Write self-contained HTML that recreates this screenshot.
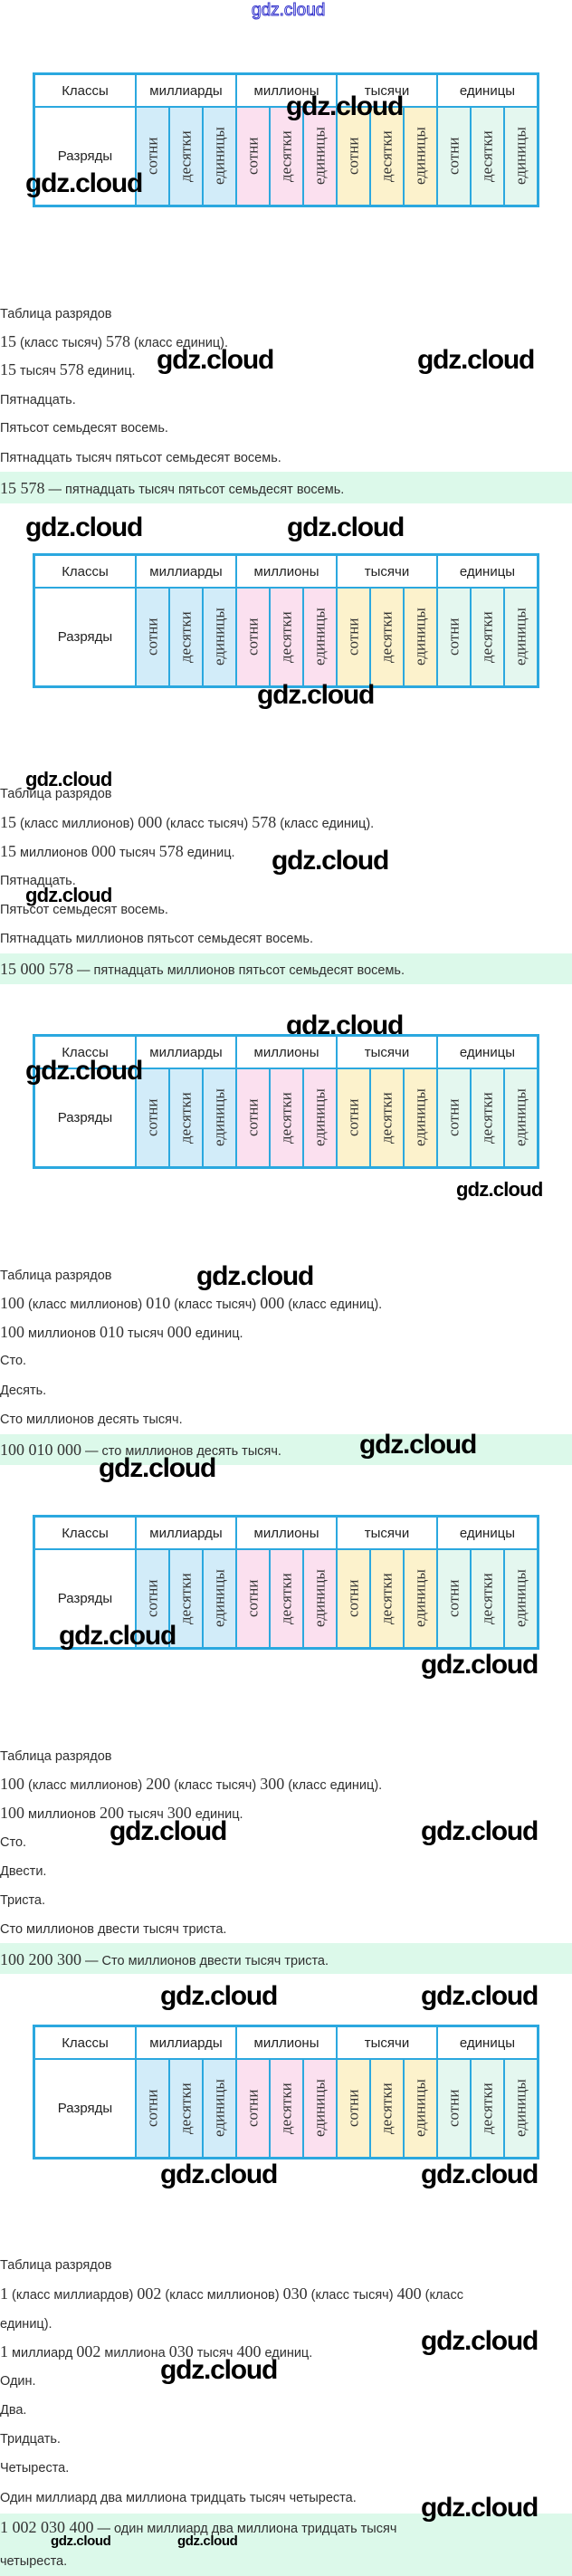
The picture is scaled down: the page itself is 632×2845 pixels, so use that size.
<!DOCTYPE html>
<html><head><meta charset="utf-8">
<style>
*{margin:0;padding:0;box-sizing:border-box}
body{width:632px;height:2845px;position:relative;background:#fff;overflow:hidden;font-family:"Liberation Sans",sans-serif}
.tb{position:absolute;left:36px;width:560px;height:149px;background:#2ba8df;padding:3px;display:grid;grid-template-columns:110px repeat(12,1fr);grid-template-rows:34px 1fr;gap:2px 2px}
.tb div{background:#fff;display:flex;align-items:center;justify-content:center;font-size:15px;color:#222}
.tb .h{grid-column:span 3}
.tb .v{writing-mode:vertical-rl;transform:rotate(180deg);font-family:"Liberation Serif",serif;font-size:17px;color:#333}
.tb .b{background:#d2ecf9}.tb .p{background:#fbe0ef}.tb .y{background:#fcf2cc}.tb .g{background:#e4f7ef}
.l{position:absolute;left:0;font-size:14.5px;color:#2f2f2f;line-height:20px;white-space:nowrap}
.l b{font-family:"Liberation Serif",serif;font-weight:normal;font-size:18px;color:#333}
.gr{position:absolute;left:0;width:632px;background:#dcf9ea}
.w{position:absolute;font-family:"Liberation Sans",sans-serif;font-weight:bold;font-size:30px;color:#000;line-height:30px;white-space:nowrap;letter-spacing:-1.2px}
.ws{font-size:22px;line-height:22px;letter-spacing:-0.8px}
.wt{font-size:15px;line-height:15px;letter-spacing:-0.4px}
</style></head><body>

<div class="w" style="left:278px;top:2px;font-size:19px;line-height:20px;font-weight:normal;letter-spacing:0;color:transparent;-webkit-text-stroke:1px #3333cc">gdz.cloud</div>

<!-- Table 1 -->
<div class="tb" style="top:80px">
<div>Классы</div><div class="h">миллиарды</div><div class="h">миллионы</div><div class="h">тысячи</div><div class="h">единицы</div>
<div>Разряды</div>
<div class="v b">сотни</div><div class="v b">десятки</div><div class="v b">единицы</div>
<div class="v p">сотни</div><div class="v p">десятки</div><div class="v p">единицы</div>
<div class="v y">сотни</div><div class="v y">десятки</div><div class="v y">единицы</div>
<div class="v g">сотни</div><div class="v g">десятки</div><div class="v g">единицы</div>
</div>
<div class="w" style="left:316px;top:103px">gdz.cloud</div>
<div class="w" style="left:28px;top:188px">gdz.cloud</div>

<div class="l" style="top:337px">Таблица разрядов</div>
<div class="l" style="top:367px"><b>15</b> (класс тысяч) <b>578</b> (класс единиц).</div>
<div class="l" style="top:398px"><b>15</b> тысяч <b>578</b> единиц.</div>
<div class="l" style="top:432px">Пятнадцать.</div>
<div class="l" style="top:463px">Пятьсот семьдесят восемь.</div>
<div class="l" style="top:496px">Пятнадцать тысяч пятьсот семьдесят восемь.</div>
<div class="gr" style="top:521px;height:35px"></div>
<div class="l" style="top:529px"><b>15 578</b> — пятнадцать тысяч пятьсот семьдесят восемь.</div>
<div class="w" style="left:173px;top:383px">gdz.cloud</div>
<div class="w" style="left:461px;top:383px">gdz.cloud</div>
<div class="w" style="left:28px;top:568px">gdz.cloud</div>
<div class="w" style="left:317px;top:568px">gdz.cloud</div>

<!-- Table 2 -->
<div class="tb" style="top:611px">
<div>Классы</div><div class="h">миллиарды</div><div class="h">миллионы</div><div class="h">тысячи</div><div class="h">единицы</div>
<div>Разряды</div>
<div class="v b">сотни</div><div class="v b">десятки</div><div class="v b">единицы</div>
<div class="v p">сотни</div><div class="v p">десятки</div><div class="v p">единицы</div>
<div class="v y">сотни</div><div class="v y">десятки</div><div class="v y">единицы</div>
<div class="v g">сотни</div><div class="v g">десятки</div><div class="v g">единицы</div>
</div>
<div class="w" style="left:284px;top:753px">gdz.cloud</div>

<div class="w ws" style="left:28px;top:850px">gdz.cloud</div>
<div class="l" style="top:867px">Таблица разрядов</div>
<div class="l" style="top:898px"><b>15</b> (класс миллионов) <b>000</b> (класс тысяч) <b>578</b> (класс единиц).</div>
<div class="l" style="top:930px"><b>15</b> миллионов <b>000</b> тысяч <b>578</b> единиц.</div>
<div class="l" style="top:963px">Пятнадцать.</div>
<div class="w ws" style="left:28px;top:978px">gdz.cloud</div>
<div class="l" style="top:995px">Пятьсот семьдесят восемь.</div>
<div class="l" style="top:1027px">Пятнадцать миллионов пятьсот семьдесят восемь.</div>
<div class="gr" style="top:1053px;height:34px"></div>
<div class="l" style="top:1060px"><b>15 000 578</b> — пятнадцать миллионов пятьсот семьдесят восемь.</div>
<div class="w" style="left:300px;top:936px">gdz.cloud</div>
<div class="w" style="left:316px;top:1118px">gdz.cloud</div>

<!-- Table 3 -->
<div class="tb" style="top:1142px">
<div>Классы</div><div class="h">миллиарды</div><div class="h">миллионы</div><div class="h">тысячи</div><div class="h">единицы</div>
<div>Разряды</div>
<div class="v b">сотни</div><div class="v b">десятки</div><div class="v b">единицы</div>
<div class="v p">сотни</div><div class="v p">десятки</div><div class="v p">единицы</div>
<div class="v y">сотни</div><div class="v y">десятки</div><div class="v y">единицы</div>
<div class="v g">сотни</div><div class="v g">десятки</div><div class="v g">единицы</div>
</div>
<div class="w" style="left:28px;top:1168px">gdz.cloud</div>
<div class="w ws" style="left:504px;top:1303px">gdz.cloud</div>

<div class="l" style="top:1399px">Таблица разрядов</div>
<div class="l" style="top:1429px"><b>100</b> (класс миллионов) <b>010</b> (класс тысяч) <b>000</b> (класс единиц).</div>
<div class="l" style="top:1461px"><b>100</b> миллионов <b>010</b> тысяч <b>000</b> единиц.</div>
<div class="l" style="top:1493px">Сто.</div>
<div class="l" style="top:1526px">Десять.</div>
<div class="l" style="top:1558px">Сто миллионов десять тысяч.</div>
<div class="gr" style="top:1584px;height:34px"></div>
<div class="l" style="top:1591px"><b>100 010 000</b> — сто миллионов десять тысяч.</div>
<div class="w" style="left:217px;top:1395px">gdz.cloud</div>
<div class="w" style="left:397px;top:1581px">gdz.cloud</div>
<div class="w" style="left:109px;top:1607px">gdz.cloud</div>

<!-- Table 4 -->
<div class="tb" style="top:1673px">
<div>Классы</div><div class="h">миллиарды</div><div class="h">миллионы</div><div class="h">тысячи</div><div class="h">единицы</div>
<div>Разряды</div>
<div class="v b">сотни</div><div class="v b">десятки</div><div class="v b">единицы</div>
<div class="v p">сотни</div><div class="v p">десятки</div><div class="v p">единицы</div>
<div class="v y">сотни</div><div class="v y">десятки</div><div class="v y">единицы</div>
<div class="v g">сотни</div><div class="v g">десятки</div><div class="v g">единицы</div>
</div>
<div class="w" style="left:65px;top:1792px">gdz.cloud</div>
<div class="w" style="left:465px;top:1824px">gdz.cloud</div>

<div class="l" style="top:1930px">Таблица разрядов</div>
<div class="l" style="top:1960px"><b>100</b> (класс миллионов) <b>200</b> (класс тысяч) <b>300</b> (класс единиц).</div>
<div class="l" style="top:1992px"><b>100</b> миллионов <b>200</b> тысяч <b>300</b> единиц.</div>
<div class="l" style="top:2025px">Сто.</div>
<div class="l" style="top:2057px">Двести.</div>
<div class="l" style="top:2089px">Триста.</div>
<div class="l" style="top:2121px">Сто миллионов двести тысяч триста.</div>
<div class="gr" style="top:2146px;height:34px"></div>
<div class="l" style="top:2154px"><b>100 200 300</b> — Сто миллионов двести тысяч триста.</div>
<div class="w" style="left:121px;top:2008px">gdz.cloud</div>
<div class="w" style="left:465px;top:2008px">gdz.cloud</div>
<div class="w" style="left:177px;top:2190px">gdz.cloud</div>
<div class="w" style="left:465px;top:2190px">gdz.cloud</div>

<!-- Table 5 -->
<div class="tb" style="top:2236px">
<div>Классы</div><div class="h">миллиарды</div><div class="h">миллионы</div><div class="h">тысячи</div><div class="h">единицы</div>
<div>Разряды</div>
<div class="v b">сотни</div><div class="v b">десятки</div><div class="v b">единицы</div>
<div class="v p">сотни</div><div class="v p">десятки</div><div class="v p">единицы</div>
<div class="v y">сотни</div><div class="v y">десятки</div><div class="v y">единицы</div>
<div class="v g">сотни</div><div class="v g">десятки</div><div class="v g">единицы</div>
</div>
<div class="w" style="left:177px;top:2387px">gdz.cloud</div>
<div class="w" style="left:465px;top:2387px">gdz.cloud</div>

<div class="l" style="top:2492px">Таблица разрядов</div>
<div class="l" style="top:2523px"><b>1</b> (класс миллиардов) <b>002</b> (класс миллионов) <b>030</b> (класс тысяч) <b>400</b> (класс</div>
<div class="l" style="top:2557px">единиц).</div>
<div class="l" style="top:2587px"><b>1</b> миллиард <b>002</b> миллиона <b>030</b> тысяч <b>400</b> единиц.</div>
<div class="l" style="top:2620px">Один.</div>
<div class="l" style="top:2652px">Два.</div>
<div class="l" style="top:2684px">Тридцать.</div>
<div class="l" style="top:2716px">Четыреста.</div>
<div class="l" style="top:2749px">Один миллиард два миллиона тридцать тысяч четыреста.</div>
<div class="gr" style="top:2776px;height:69px"></div>
<div class="l" style="top:2781px"><b>1 002 030 400</b> — один миллиард два миллиона тридцать тысяч</div>
<div class="l" style="top:2819px">четыреста.</div>
<div class="w" style="left:465px;top:2571px">gdz.cloud</div>
<div class="w" style="left:177px;top:2603px">gdz.cloud</div>
<div class="w" style="left:465px;top:2755px">gdz.cloud</div>
<div class="w wt" style="left:56px;top:2799px">gdz.cloud</div>
<div class="w wt" style="left:196px;top:2799px">gdz.cloud</div>

</body></html>
